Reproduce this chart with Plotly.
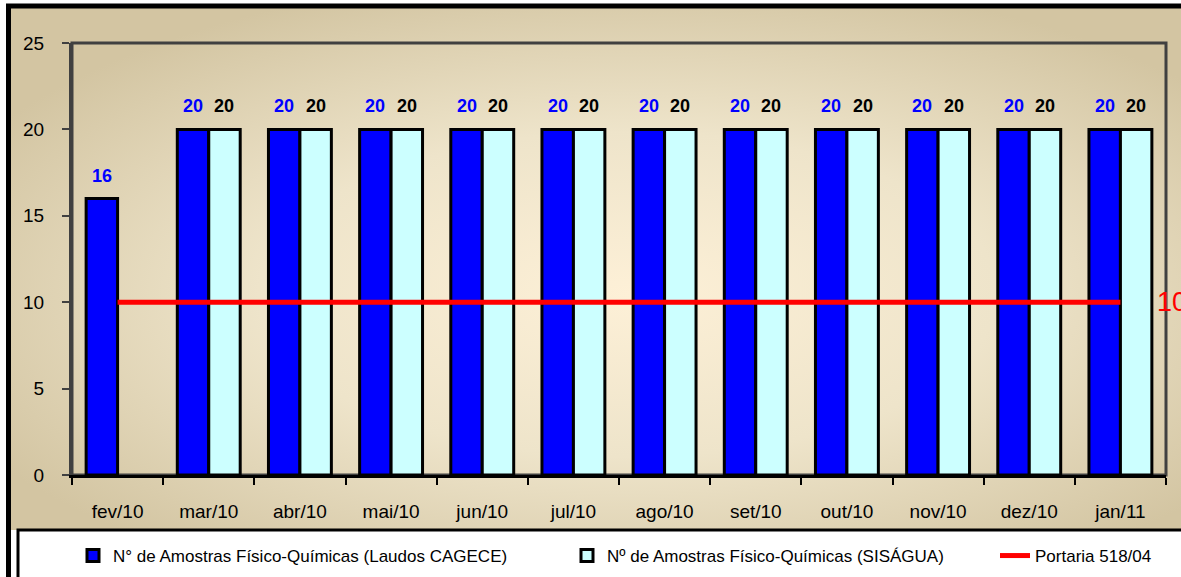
import base64
import plotly.graph_objects as go

# ---- data ----
categories = ["fev/10", "mar/10", "abr/10", "mai/10", "jun/10", "jul/10",
              "ago/10", "set/10", "out/10", "nov/10", "dez/10", "jan/11"]
cagece = [16, 20, 20, 20, 20, 20, 20, 20, 20, 20, 20, 20]
sisagua = [None, 20, 20, 20, 20, 20, 20, 20, 20, 20, 20, 20]
portaria = [10] * 12
y_ticks = [0, 5, 10, 15, 20, 25]

name_cagece = "N° de Amostras Físico-Químicas (Laudos CAGECE)"
name_sisagua = "Nº de Amostras Físico-Químicas (SISÁGUA)"
name_portaria = "Portaria 518/04"

# ---- layout geometry (pixels) ----
W, H = 1181, 577
L, R, T, B = 72, 15, 43, 102
PW = W - L - R
PH = H - T - B


def px(x):
    return (x - L) / PW


def py(y):
    return (H - B - y) / PH


FONT = "Liberation Sans, Arial, sans-serif"

svg = (
    '<svg xmlns="http://www.w3.org/2000/svg" width="1200" height="600" '
    'viewBox="0 0 1200 600" preserveAspectRatio="none">'
    '<defs><radialGradient id="g" cx="52%" cy="55%" r="62%">'
    '<stop offset="0%" stop-color="#FDF0D7"/>'
    '<stop offset="50%" stop-color="#EEE4CA"/>'
    '<stop offset="100%" stop-color="#D3C5A2"/>'
    '</radialGradient></defs>'
    '<rect width="1200" height="600" fill="url(#g)"/></svg>'
)
svg_uri = "data:image/svg+xml;base64," + base64.b64encode(svg.encode()).decode()

fig = go.Figure()

fig.add_trace(go.Bar(
    x=categories, y=cagece, name=name_cagece,
    marker=dict(color="#0000FF", line=dict(color="black", width=3)),
    legend="legend",
))
fig.add_trace(go.Bar(
    x=categories, y=sisagua, name=name_sisagua,
    marker=dict(color="#CCFFFF", line=dict(color="black", width=3)),
    legend="legend2",
))
fig.add_trace(go.Scatter(
    x=categories, y=portaria, name=name_portaria, mode="lines",
    line=dict(color="#FF0000", width=5),
    legend="legend3",
))

BARGAP = 0.31
annotations = []
bar_half = PW / len(categories) * (1 - BARGAP) / 4
for c, v in zip(categories, cagece):
    if v is not None:
        annotations.append(dict(
            x=c, y=v, text=str(v), showarrow=False, xshift=-bar_half, yshift=23,
            yanchor="middle", font=dict(family=FONT, size=18, color="#0000FF", weight="bold"),
        ))
for c, v in zip(categories, sisagua):
    if v is not None:
        annotations.append(dict(
            x=c, y=v, text=str(v), showarrow=False, xshift=bar_half, yshift=23,
            yanchor="middle", font=dict(family=FONT, size=18, color="black", weight="bold"),
        ))
annotations.append(dict(
    x=categories[-1], y=portaria[-1], text=str(portaria[-1]), showarrow=False,
    xanchor="left", yanchor="middle", xshift=35,
    font=dict(family=FONT, size=27, color="#FF0000"),
))

shapes = [
    # outer frame
    dict(type="rect", xref="paper", yref="paper", layer="below",
         x0=px(8.5), x1=px(1200), y0=py(600), y1=py(6),
         line=dict(color="black", width=5), fillcolor="rgba(0,0,0,0)"),
    # plot area border
    dict(type="rect", xref="paper", yref="paper", layer="below",
         x0=0, x1=1, y0=0, y1=1,
         line=dict(color="#404040", width=3), fillcolor="rgba(0,0,0,0)"),
    # legend box
    dict(type="rect", xref="paper", yref="paper", layer="below",
         x0=px(18), x1=px(1220), y0=py(620), y1=py(530),
         line=dict(color="black", width=3), fillcolor="white"),
]

legend_common = dict(
    orientation="h", yanchor="middle", xanchor="left", y=py(556),
    font=dict(family=FONT, size=17, color="black"),
    bgcolor="rgba(0,0,0,0)", borderwidth=0,
)

fig.update_layout(
    width=W, height=H,
    margin=dict(l=L, r=R, t=T, b=B, pad=0, autoexpand=False),
    paper_bgcolor="white",
    plot_bgcolor="rgba(0,0,0,0)",
    barmode="group", bargap=BARGAP, bargroupgap=0,
    font=dict(family=FONT, color="black"),
    images=[dict(source=svg_uri, xref="paper", yref="paper",
                 x=px(8.5), y=py(6), sizex=px(1200) - px(8.5), sizey=py(6) - py(530),
                 xanchor="left", yanchor="top", sizing="stretch", layer="below")],
    shapes=shapes,
    annotations=annotations,
    showlegend=True,
    legend=dict(legend_common, x=px(73)),
    legend2=dict(legend_common, x=px(567)),
    legend3=dict(legend_common, x=px(995)),
    xaxis=dict(
        type="category", range=[-0.5, len(categories) - 0.5],
        showgrid=False, showline=True, linecolor="black", linewidth=3,
        ticks="outside", tickson="boundaries", ticklen=7, tickwidth=1.5, tickcolor="black",
        tickfont=dict(family=FONT, size=19, color="black"), ticklabelstandoff=17,
        fixedrange=True, automargin=False,
    ),
    yaxis=dict(
        range=[0, 25], tickvals=y_ticks, showgrid=False, zeroline=False,
        showline=True, linecolor="#404040", linewidth=3,
        ticks="outside", ticklen=7, tickwidth=1.5, tickcolor="#404040",
        tickfont=dict(family=FONT, size=19, color="black"), ticklabelstandoff=14,
        fixedrange=True, automargin=False,
    ),
)

fig.write_html(
    "out.html",
    config={"displayModeBar": False},
    post_script="document.body.style.margin='0';document.body.style.overflow='hidden';",
)
